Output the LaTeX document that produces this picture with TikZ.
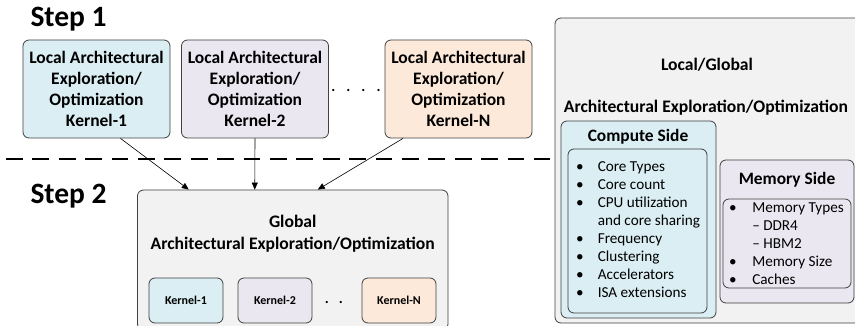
\documentclass[tikz,border=0pt]{standalone}
\usepackage{fontspec}
\setmainfont{Carlito}
\usetikzlibrary{arrows.meta}

\definecolor{kblue}{HTML}{DAEEF3}
\definecolor{kpurple}{HTML}{EAE7F0}
\definecolor{korange}{HTML}{FDE9D9}
\definecolor{kgray}{HTML}{F2F2F2}
\definecolor{kline}{HTML}{404040}

\begin{document}
\begin{tikzpicture}[x=1pt,y=-1pt,
    box/.style={draw=kline,rounded corners=6pt,line width=0.8pt},
    local node/.style={box,minimum width=147pt,minimum height=98pt,align=center,
      inner sep=0pt,font=\fontsize{17.5}{21}\selectfont\bfseries},
    small node/.style={box,minimum width=74pt,minimum height=45pt,
      font=\fontsize{12}{14}\selectfont\bfseries},
    step label/.style={anchor=west,font=\fontsize{29.5}{32}\selectfont\bfseries},
    title/.style={align=center,font=\fontsize{17.6}{22}\selectfont\bfseries},
    side title/.style={font=\fontsize{17.4}{20}\selectfont\bfseries},
    item list/.style={anchor=base west,inner sep=0pt,font=\fontsize{15.2}{17.9}\selectfont},
    dots/.style={anchor=base,inner sep=0pt,font=\fontsize{15}{18}\selectfont\bfseries},
    link/.style={line width=0.6pt,-{Triangle[length=7pt,width=6pt]}}]

    \useasboundingbox (0,0) rectangle (855,326);
    \clip (0,0) rectangle (855,326);

    % Step 1
    \node[step label] (s1) at (27,19) {Step 1};
    \node[local node,fill=kblue] (L1) at (96.5,89) {Local Architectural\\Exploration/\\Optimization\\Kernel-1};
    \node[local node,fill=kpurple] (L2) at (255,89) {Local Architectural\\Exploration/\\Optimization\\Kernel-2};
    \node[local node,fill=korange] (LN) at (458.5,89) {Local Architectural\\Exploration/\\Optimization\\Kernel-N};
    \node[dots] (ldots) at (356,92) {.\hspace{11pt}.\hspace{11pt}.\hspace{11pt}.};

    % Separator
    \draw[line width=2.6pt,dash pattern=on 16.7pt off 9.7pt] (6,159) -- (550,159);

    % Step 2
    \node[step label] (s2) at (27,196) {Step 2};
    \node[box,fill=kgray,minimum width=310.5pt,minimum height=140pt] (G) at (292.75,260) {};
    \node[title] (Gt) at (292.75,234) {Global\\Architectural Exploration/Optimization};
    \node[small node,fill=kblue] (K1) at (186,300.5) {Kernel-1};
    \node[small node,fill=kpurple] (K2) at (275,300.5) {Kernel-2};
    \node[small node,fill=korange] (KN) at (399,300.5) {Kernel-N};
    \node[dots] (kdots) at (334,303) {.\hspace{10pt}.};

    % Draw edges
    \draw[link] ([xshift=24pt]L1.south) -- ([xshift=-104pt]G.north);
    \draw[link] (L2.south) -- ([xshift=-38pt]G.north);
    \draw[link] ([xshift=-55.5pt]LN.south) -- ([xshift=25pt]G.north);

    % Local/Global side
    \node[box,fill=kgray,minimum width=315pt,minimum height=305pt] (R) at (712.5,170.5) {};
    \node[title] (Rt1) at (707,65) {Local/Global};
    \node[title] (Rt2) at (706,108) {Architectural Exploration/Optimization};

    \node[box,fill=kblue,minimum width=155pt,minimum height=197pt] (C) at (638.5,219.5) {};
    \node[side title] (Ct) at (638,137) {Compute Side};
    \node[box,fill=kblue,minimum width=139pt,minimum height=164pt] (Ci) at (637.5,231) {};
    \node[item list] (Cl) at (576,172) {\begin{tabular}[t]{@{}l@{\hspace{14pt}}l@{}}
      \textbullet & Core Types\\
      \textbullet & Core count\\
      \textbullet & CPU utilization\\
                  & and core sharing\\
      \textbullet & Frequency\\
      \textbullet & Clustering\\
      \textbullet & Accelerators\\
      \textbullet & ISA extensions
    \end{tabular}};

    \node[box,fill=kpurple,minimum width=134pt,minimum height=143pt] (M) at (787,231.5) {};
    \node[side title] (Mt) at (787,180) {Memory Side};
    \node[box,fill=kpurple,minimum width=128pt,minimum height=89pt] (Mi) at (787,243.5) {};
    \node[item list] (Ml) at (729,213) {\begin{tabular}[t]{@{}l@{\hspace{15.5pt}}l@{}}
      \textbullet & Memory Types\\
                  & -- DDR4\\
                  & -- HBM2\\
      \textbullet & Memory Size\\
      \textbullet & Caches
    \end{tabular}};

\end{tikzpicture}
\end{document}
